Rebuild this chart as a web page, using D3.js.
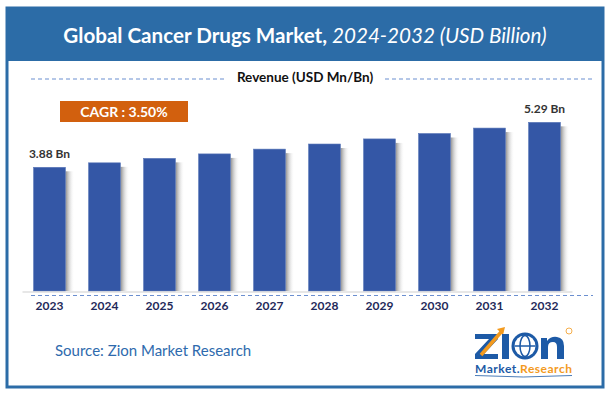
<!DOCTYPE html>
<html>
<head>
<meta charset="utf-8">
<script src="https://cdn.jsdelivr.net/npm/d3@7"></script>
<style>
  body { margin: 0; background: #fff; }
  svg { display: block; font-family: Lato, "Open Sans", sans-serif; }
</style>
</head>
<body>
<div id="chart"></div>
<script>
// data
const years = ['2023', '2024', '2025', '2026', '2027', '2028', '2029', '2030', '2031', '2032'];
const revenue = [3.88, 4.02, 4.16, 4.30, 4.45, 4.61, 4.77, 4.94, 5.11, 5.29];
const labelledYears = ['2023', '2032'];
const cagrText = 'CAGR : 3.50%';

const width = 609;
const height = 396;
const blue = '#2c6ca7';
const barColor = '#3457a6';

const svg = d3.select('#chart')
  .append('svg')
  .attr('width', width)
  .attr('height', height);

const defs = svg.append('defs');
const shade = defs.append('linearGradient').attr('id', 'shade');
shade.append('stop').attr('offset', '0%').attr('stop-color', '#777').attr('stop-opacity', 0.85);
shade.append('stop').attr('offset', '100%').attr('stop-color', '#fff').attr('stop-opacity', 0);

// frame + title band
svg.append('rect')
  .attr('x', 7).attr('y', 8)
  .attr('width', 596).attr('height', 379)
  .attr('fill', '#fff')
  .attr('stroke', blue)
  .attr('stroke-width', 3);

svg.append('rect')
  .attr('x', 7).attr('y', 8)
  .attr('width', 596).attr('height', 53)
  .attr('fill', blue);

const title = svg.append('text')
  .attr('x', 305).attr('y', 43)
  .attr('text-anchor', 'middle')
  .attr('fill', '#fff')
  .style('font-size', '20.6px');
title.append('tspan').attr('font-weight', 'bold').text('Global Cancer Drugs Market, ');
title.append('tspan').attr('font-style', 'italic').text('2024-2032 (USD Billion)');

// subtitle with dashed rules
svg.append('line')
  .attr('x1', 31).attr('x2', 225).attr('y1', 79).attr('y2', 79)
  .attr('stroke', '#6b8fd0').attr('stroke-dasharray', '4,3');
svg.append('line')
  .attr('x1', 385).attr('x2', 593).attr('y1', 79).attr('y2', 79)
  .attr('stroke', '#6b8fd0').attr('stroke-dasharray', '4,3');
svg.append('text')
  .attr('x', 305).attr('y', 81.5)
  .attr('text-anchor', 'middle')
  .attr('fill', '#111')
  .attr('font-weight', 'bold')
  .style('font-size', '13.5px')
  .text('Revenue (USD Mn/Bn)');

// CAGR badge
svg.append('rect')
  .attr('x', 60).attr('y', 101)
  .attr('width', 128).attr('height', 21)
  .attr('fill', '#d2600e');
svg.append('text')
  .attr('x', 124).attr('y', 116.5)
  .attr('text-anchor', 'middle')
  .attr('fill', '#fff')
  .attr('font-weight', 'bold')
  .style('font-size', '14px')
  .text(cagrText);

// scales
const x = d3.scaleBand()
  .domain(years)
  .range([22, 572])
  .paddingInner(0.42)
  .paddingOuter(0.21);

const y = d3.scaleLinear()
  .domain([0, 6])
  .range([291, 99.7]);

const rows = years.map((year, i) => ({ year: year, value: revenue[i] }));

// bar shadows, then bars
svg.append('g')
  .selectAll('rect')
  .data(rows)
  .enter()
  .append('rect')
  .attr('x', (d) => x(d.year) + x.bandwidth())
  .attr('y', (d) => y(d.value) + 4)
  .attr('width', 9)
  .attr('height', (d) => y(0) - y(d.value) - 4)
  .attr('fill', 'url(#shade)');

svg.append('g')
  .selectAll('rect')
  .data(rows)
  .enter()
  .append('rect')
  .attr('x', (d) => x(d.year))
  .attr('y', (d) => y(d.value))
  .attr('width', x.bandwidth())
  .attr('height', (d) => y(0) - y(d.value))
  .attr('fill', barColor)
  .attr('stroke', '#5a77b8')
  .attr('stroke-width', 0.6);

svg.append('g')
  .selectAll('text')
  .data(rows.filter((d) => labelledYears.includes(d.year)))
  .enter()
  .append('text')
  .attr('x', (d) => x(d.year) + x.bandwidth() / 2)
  .attr('y', (d) => y(d.value) - 9)
  .attr('text-anchor', 'middle')
  .attr('fill', '#333')
  .attr('font-weight', 'bold')
  .style('font-size', '12px')
  .text((d) => d.value.toFixed(2) + ' Bn');

// x axis
const axis = svg.append('g')
  .attr('transform', 'translate(0, 291.5)')
  .call(d3.axisBottom(x).tickSize(0).tickPadding(10));
axis.select('.domain').attr('stroke', '#d0d0d0').attr('stroke-width', 1.2);
axis.selectAll('text')
  .attr('fill', '#1f2a5a')
  .attr('font-weight', 'bold')
  .style('font-size', '12px')
  .style('font-family', 'Lato, sans-serif');

svg.append('line')
  .attr('x1', 31).attr('x2', 593).attr('y1', 295.5).attr('y2', 295.5)
  .attr('stroke', '#6b8fd0').attr('stroke-dasharray', '4,3');

// source
svg.append('text')
  .attr('x', 55).attr('y', 356)
  .attr('fill', '#2e6aad')
  .style('font-size', '15px')
  .text('Source: Zion Market Research');

// logo
const logo = svg.append('g').attr('transform', 'translate(475, 0)');
logo.append('path')
  .attr('d', 'M0,334 H23 V339 L9,354 H23 V359 H0 V354 L14,339 H0 Z')
  .attr('fill', '#1d5aa6');
logo.append('line')
  .attr('x1', 6).attr('y1', 355).attr('x2', 27).attr('y2', 331)
  .attr('stroke', '#f39a1e').attr('stroke-width', 3.5);
logo.append('path')
  .attr('d', 'M22,329 L30,327 L28,335 Z')
  .attr('fill', '#f39a1e');
logo.append('rect')
  .attr('x', 27).attr('y', 334)
  .attr('width', 7).attr('height', 25)
  .attr('fill', '#1d5aa6');
logo.append('circle')
  .attr('cx', 50).attr('cy', 346).attr('r', 13.5)
  .attr('fill', '#1d5aa6');
logo.append('circle')
  .attr('cx', 50).attr('cy', 346).attr('r', 10.5)
  .attr('fill', '#fff');
logo.append('ellipse')
  .attr('cx', 50).attr('cy', 346).attr('rx', 5).attr('ry', 10.5)
  .attr('fill', 'none').attr('stroke', '#1d5aa6').attr('stroke-width', 1.5);
logo.append('line')
  .attr('x1', 39.5).attr('x2', 60.5).attr('y1', 346).attr('y2', 346)
  .attr('stroke', '#1d5aa6').attr('stroke-width', 1.5);
logo.append('path')
  .attr('d', 'M66,359 V338 H72 V341 Q76,336 82,337 Q89,338 89,346 V359 H82 V347 Q82,342 78,342 Q73,342 73,347 V359 Z')
  .attr('fill', '#1d5aa6');
logo.append('circle')
  .attr('cx', 94).attr('cy', 331).attr('r', 3)
  .attr('fill', 'none').attr('stroke', '#f39a1e').attr('stroke-width', 0.8);

const tag = logo.append('text')
  .attr('x', 0).attr('y', 373)
  .attr('font-weight', 'bold')
  .attr('textLength', 97)
  .style('font-size', '12px');
tag.append('tspan').attr('fill', '#1d5aa6').text('Market.');
tag.append('tspan').attr('fill', '#f39a1e').text('Research');
logo.append('path')
  .attr('d', 'M0,375.5 Q48,378.5 97,375.5')
  .attr('fill', 'none').attr('stroke', '#1d5aa6').attr('stroke-width', 0.8);
</script>
</body>
</html>
